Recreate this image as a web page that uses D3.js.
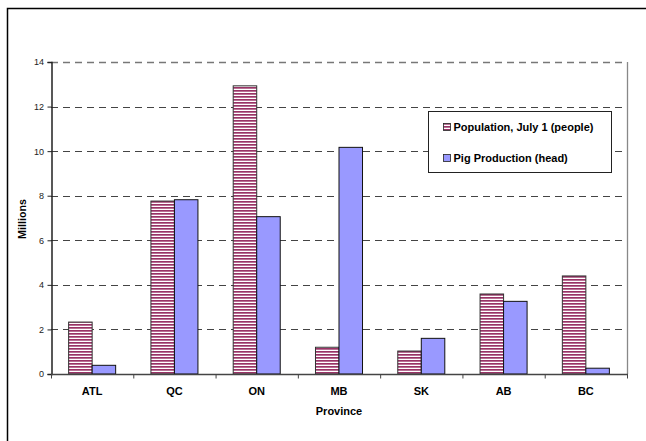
<!DOCTYPE html>
<html>
<head>
<meta charset="utf-8">
<script src="https://cdn.jsdelivr.net/npm/d3@7"></script>
<style>
  html, body { margin: 0; padding: 0; background: #fff; }
  svg { display: block; font-family: "Liberation Sans", Arial, sans-serif; }
</style>
</head>
<body>
<svg id="chart" width="646" height="441"></svg>
<script>
// Provinces along the x axis
const provinces = ["ATL", "QC", "ON", "MB", "SK", "AB", "BC"];
// Millions of people on July 1
const population = [2.33, 7.76, 12.93, 1.20, 1.03, 3.59, 4.40];
// Millions of pigs (head)
const pigs = [0.39, 7.82, 7.06, 10.17, 1.60, 3.26, 0.26];
const yTicks = [0, 2, 4, 6, 8, 10, 12, 14];
const seriesNames = ["Population, July 1 (people)", "Pig Production (head)"];

const svg = d3.select("#chart");
const plot = { left: 51, top: 62, right: 627, bottom: 374 };

// Striped fill for the population series
const defs = svg.append("defs");
const pat = defs.append("pattern")
  .attr("id", "stripes")
  .attr("patternUnits", "userSpaceOnUse")
  .attr("width", 8).attr("height", 3);
pat.append("rect").attr("width", 8).attr("height", 3).attr("fill", "#ffffff");
pat.append("rect").attr("y", 0).attr("width", 8).attr("height", 1.7).attr("fill", "#993366");

// Chart frame (left and top edges)
svg.append("path")
  .attr("d", "M7.5,441 V8.5 H646")
  .attr("fill", "none").attr("stroke", "#000").attr("stroke-width", 1.5);

const x = d3.scaleBand().domain(provinces).range([plot.left, plot.right]).paddingInner(0).paddingOuter(0);
const y = d3.scaleLinear().domain([0, 14]).range([plot.bottom, plot.top]);
const barW = x.bandwidth() / 3.5;
const gapOff = (x.bandwidth() - 2 * barW) / 2;

// Dashed horizontal gridlines
svg.append("g").selectAll("line")
  .data(yTicks.filter(d => d > 0))
  .join("line")
  .attr("x1", plot.left).attr("x2", plot.right)
  .attr("y1", d => Math.round(y(d)) + 0.5).attr("y2", d => Math.round(y(d)) + 0.5)
  .attr("stroke", d => d === 14 ? "#777" : "#444")
  .attr("stroke-width", d => d === 14 ? 1.3 : 1)
  .attr("stroke-dasharray", "7,5");

// Right edge of the plot area
svg.append("line")
  .attr("x1", plot.right + 0.5).attr("x2", plot.right + 0.5)
  .attr("y1", plot.top).attr("y2", plot.bottom)
  .attr("stroke", "#888").attr("stroke-width", 1.3);

// Bars
const rows = provinces.map((p, i) => ({ p, pop: population[i], pig: pigs[i] }));
const g = svg.append("g");
g.selectAll("rect.pop").data(rows).join("rect")
  .attr("class", "pop")
  .attr("x", d => x(d.p) + gapOff)
  .attr("y", d => y(d.pop))
  .attr("width", barW)
  .attr("height", d => y(0) - y(d.pop))
  .attr("fill", "url(#stripes)")
  .attr("stroke", "#333").attr("stroke-width", 1);
g.selectAll("rect.pig").data(rows).join("rect")
  .attr("class", "pig")
  .attr("x", d => x(d.p) + gapOff + barW)
  .attr("y", d => y(d.pig))
  .attr("width", barW)
  .attr("height", d => y(0) - y(d.pig))
  .attr("fill", "#9999ff")
  .attr("stroke", "#111").attr("stroke-width", 1);

// Y axis
const yAxis = svg.append("g")
  .attr("transform", `translate(${plot.left + 0.5},0)`)
  .call(d3.axisLeft(y).tickValues(yTicks).tickSize(4).tickPadding(3.5).tickFormat(d3.format("d")));
yAxis.select(".domain").attr("stroke", "#222").attr("stroke-width", 1.5);
yAxis.selectAll(".tick line").attr("stroke", "#222");
yAxis.selectAll("text").attr("font-size", 9).attr("fill", "#222");

// X axis with ticks at category boundaries
const xAxisG = svg.append("g").attr("transform", `translate(0,${plot.bottom + 0.5})`);
xAxisG.append("line")
  .attr("x1", plot.left).attr("x2", plot.right + 1)
  .attr("stroke", "#444").attr("stroke-width", 1.5);
const bounds = provinces.map(p => x(p)).concat([plot.right]);
xAxisG.selectAll("line.tk").data(bounds).join("line")
  .attr("class", "tk")
  .attr("x1", d => d + 0.5).attr("x2", d => d + 0.5)
  .attr("y1", 0).attr("y2", 4)
  .attr("stroke", "#444");
xAxisG.selectAll("text").data(provinces).join("text")
  .attr("x", d => x(d) + x.bandwidth() / 2)
  .attr("y", 20.5)
  .attr("text-anchor", "middle")
  .attr("font-size", 11).attr("font-weight", "bold")
  .text(d => d);

// Axis titles
svg.append("text")
  .attr("x", (plot.left + plot.right) / 2).attr("y", 415)
  .attr("text-anchor", "middle")
  .attr("font-size", 11).attr("font-weight", "bold")
  .text("Province");
svg.append("text")
  .attr("transform", `translate(25.5,219) rotate(-90)`)
  .attr("text-anchor", "middle")
  .attr("font-size", 10.7).attr("font-weight", "bold")
  .text("Millions");

// Legend
const lg = svg.append("g");
lg.append("rect")
  .attr("x", 428.5).attr("y", 111.5).attr("width", 183).attr("height", 61)
  .attr("fill", "#fff").attr("stroke", "#222").attr("stroke-width", 1);
const swFills = ["url(#stripes)", "#9999ff"];
seriesNames.forEach((name, i) => {
  const cy = 127 + i * 31;
  lg.append("rect")
    .attr("x", 443.5).attr("y", cy - 3.5).attr("width", 7).attr("height", 7)
    .attr("fill", swFills[i]).attr("stroke", "#222").attr("stroke-width", 0.8);
  lg.append("text")
    .attr("x", 453.5).attr("y", cy + 4)
    .attr("font-size", 11).attr("font-weight", "bold")
    .text(name);
});
</script>
</body>
</html>
